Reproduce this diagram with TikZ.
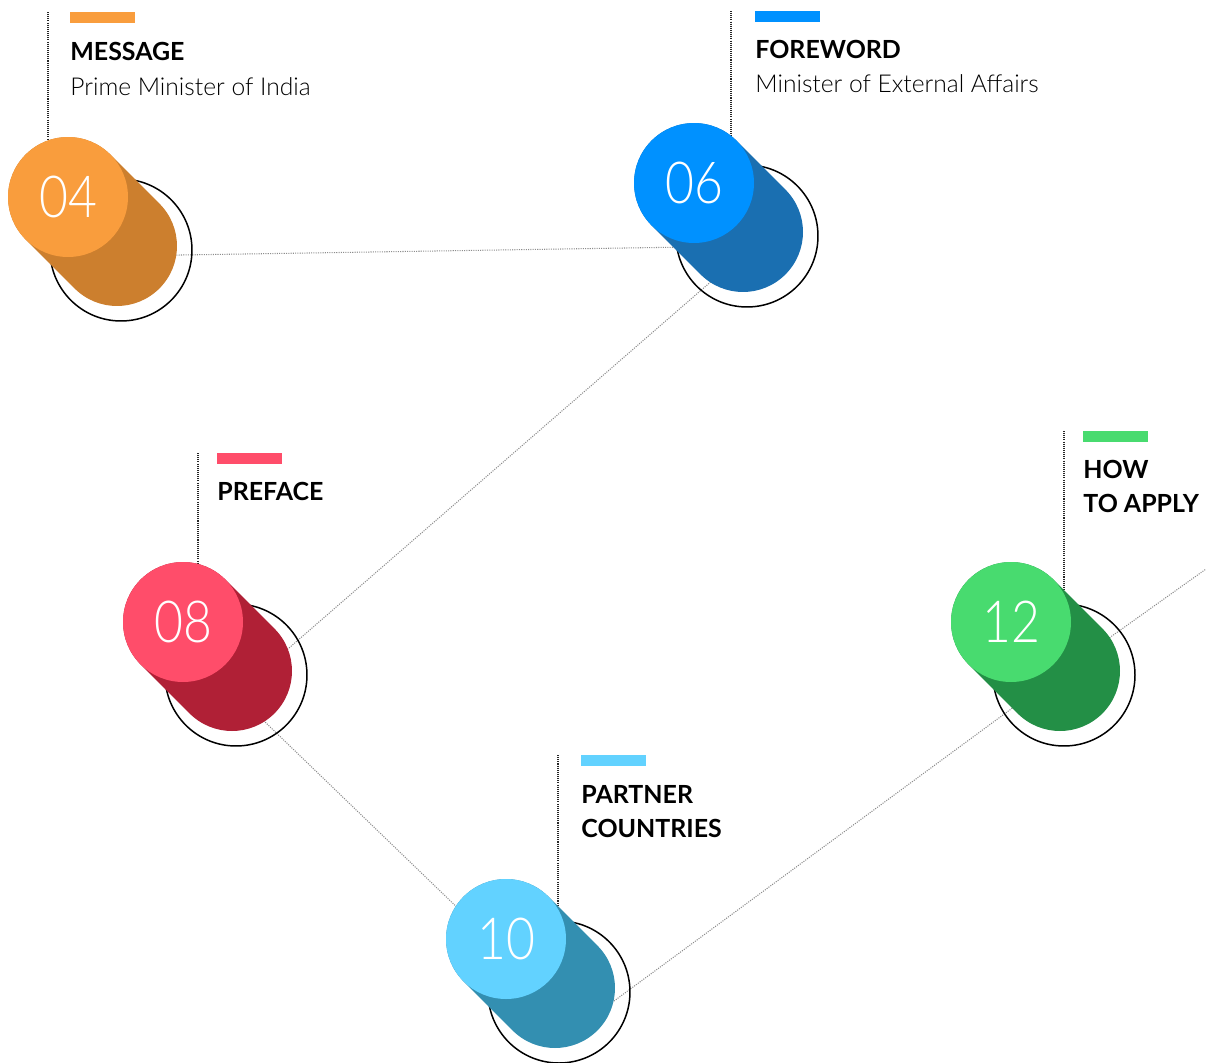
\documentclass[tikz,border=0pt]{standalone}
\usepackage{fontspec}
\setmainfont{Lato}
\newfontfamily\lightfont{Lato Light}
\newfontfamily\numfont{Lato Light}[FakeStretch=0.86]

\definecolor{msgL}{HTML}{F99D3D}
\definecolor{msgD}{HTML}{CC7F2E}
\definecolor{fwdL}{HTML}{0091FF}
\definecolor{fwdD}{HTML}{1A6FB1}
\definecolor{preL}{HTML}{FF4D6A}
\definecolor{preD}{HTML}{B02036}
\definecolor{ptnL}{HTML}{62D2FF}
\definecolor{ptnD}{HTML}{338FB1}
\definecolor{howL}{HTML}{48DB6F}
\definecolor{howD}{HTML}{238F46}

\tikzset{
  pin/.style={circle, minimum size=2.4cm, inner sep=0pt, text=white, font=\numfont\fontsize{33}{33}\selectfont},
  ring/.style={circle, draw, line width=0.85pt, minimum size=2.84cm, inner sep=0pt},
  stem/.style={line width=2.4cm, line cap=round},
  link/.style={black!45, line width=0.6pt, dash pattern=on 0.6pt off 0.7pt},
  leader/.style={black!85, line width=0.6pt, dash pattern=on 0.6pt off 0.6pt},
  bar/.style={minimum width=1.3cm, minimum height=0.21cm, inner sep=0pt, anchor=north west},
  head/.style={anchor=base west, inner sep=0pt, font=\bfseries\fontsize{14.2}{17}\selectfont},
  sub/.style={anchor=base west, inner sep=0pt, font=\lightfont\fontsize{14}{17}\selectfont}
}

\begin{document}
\begin{tikzpicture}[x=0.02cm, y=-0.02cm]
    \useasboundingbox (0,0) rectangle (1206,1062);

    % centres of the light discs and of the dark ones
    \coordinate (c04) at (68,197);   \coordinate (d04) at (117,246);
    \coordinate (c06) at (694,183);  \coordinate (d06) at (743,232);
    \coordinate (c08) at (183,622);  \coordinate (d08) at (232,671);
    \coordinate (c10) at (506,939);  \coordinate (d10) at (555,988);
    \coordinate (c12) at (1011,622); \coordinate (d12) at (1060,671);

    % the dotted path behind the pins
    \coordinate (h04) at (117,256);
    \coordinate (h06) at (752,246);
    \coordinate (h08) at (236,694);
    \coordinate (h10) at (580,1026);
    \coordinate (h12) at (1060,673);
    \coordinate (exit) at (1206,569);
    \draw[link] (h04) -- (h06) -- (h08) -- (h10) -- (h12) -- (exit);

    \node[ring] (r04) at (121,250) {};
    \node[ring] (r06) at (747,236) {};
    \node[ring] (r08) at (236,675) {};
    \node[ring] (r10) at (559,992) {};
    \node[ring] (r12) at (1064,675) {};

    % colour bars and leader lines
    \node[bar, fill=msgL] (b04) at (70,12) {};
    \node[bar, fill=fwdL] (b06) at (755,11) {};
    \node[bar, fill=preL] (b08) at (217,453) {};
    \node[bar, fill=ptnL] (b10) at (581,755) {};
    \node[bar, fill=howL] (b12) at (1083,431) {};

    \coordinate (l04) at (48,12);
    \coordinate (l06) at (731,11);
    \coordinate (l08) at (198,453);
    \coordinate (l10) at (558,755);
    \coordinate (l12) at (1064,431);
    \draw[leader] (l04) -- (l04 |- c04);
    \draw[leader] (l06) -- (l06 |- c06);
    \draw[leader] (l08) -- (l08 |- c08);
    \draw[leader] (l10) -- (l10 |- c10);
    \draw[leader] (l12) -- (l12 |- c12);

    \draw[stem, msgD] (c04) -- (d04);
    \draw[stem, fwdD] (c06) -- (d06);
    \draw[stem, preD] (c08) -- (d08);
    \draw[stem, ptnD] (c10) -- (d10);
    \draw[stem, howD] (c12) -- (d12);

    \node[pin, fill=msgL] (p04) at (c04) {04};
    \node[pin, fill=fwdL] (p06) at (c06) {06};
    \node[pin, fill=preL] (p08) at (c08) {08};
    \node[pin, fill=ptnL] (p10) at (c10) {10};
    \node[pin, fill=howL] (p12) at (c12) {12};

    \node[head] (t04) at (70,60) {MESSAGE};
    \node[sub] (s04) at (70,95) {Prime Minister of India};
    \node[head] (t06) at (755,58) {FOREWORD};
    \node[sub] (s06) at (755,92) {Minister of External Affairs};
    \node[head] (t08) at (217,500) {PREFACE};
    \node[head] (t10a) at (581,803) {PARTNER};
    \node[head] (t10b) at (581,837) {COUNTRIES};
    \node[head] (t12a) at (1083,478) {HOW};
    \node[head] (t12b) at (1083,512) {TO APPLY};
\end{tikzpicture}
\end{document}
